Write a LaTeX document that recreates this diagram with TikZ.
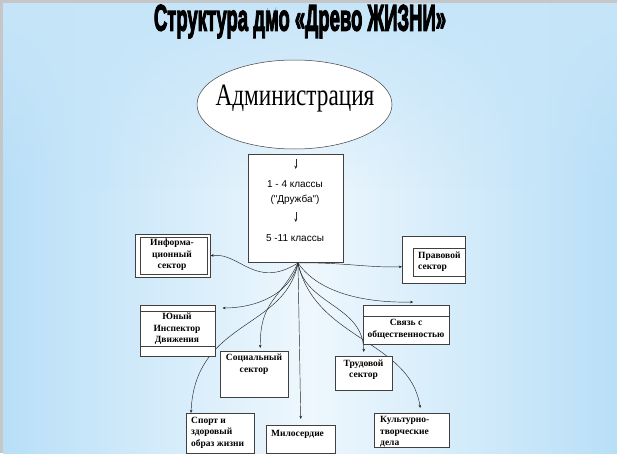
\documentclass[tikz,border=0pt]{standalone}
\usepackage{fontspec}
\setmainfont{Liberation Serif}
\newfontfamily\arialf{Liberation Sans}
\newfontfamily\titlef{Liberation Sans}[BoldFeatures={FakeBold=4}]
\usetikzlibrary{arrows.meta,shapes.geometric,fadings}

\definecolor{skydeep}{RGB}{184,223,247}
\definecolor{skylight}{RGB}{238,247,253}
\definecolor{slideframe}{RGB}{196,198,200}

\tikzfading[name=softband, top color=transparent!100, middle color=transparent!25, bottom color=transparent!100]

\pgfdeclarelayer{bg}
\pgfdeclarelayer{links}
\pgfsetlayers{bg,links,main}

\begin{document}
\begin{tikzpicture}[x=1pt, y=-1pt,
    box/.style={draw=black!75, fill=white, line width=.5pt, inner sep=0pt, anchor=north west},
    lbl/.style={font=\fontsize{9.5}{11.5}\selectfont\bfseries, inner sep=0pt, align=center},
    lbll/.style={lbl, align=left, anchor=west},
    feed/.style={line width=.45pt, black!85, -{Stealth[length=3.2pt,width=2.6pt]}},
    tick/.style={line width=.5pt, black!85, -{Stealth[length=3.4pt,width=3pt]}}]

    % slide background
    \begin{pgfonlayer}{bg}
        \fill[white] (0,0) rectangle (617,460);
        \shade[left color=skydeep, right color=skydeep, middle color=skylight] (3,3) rectangle (617,453);
        \fill[skydeep!80, path fading=south] (3,3) rectangle (617,190);
        \fill[white, path fading=softband] (3,285) rectangle (617,375);
        \fill[slideframe] (0,0) rectangle (617,3);
        \fill[slideframe] (0,0) rectangle (3,453);
    \end{pgfonlayer}

    % title
    \node[inner sep=0pt, font=\titlef\bfseries\fontsize{37}{37}\selectfont] (title) at (300,21.5)
        {\scalebox{.5}[1]{Структура дмо «Древо ЖИЗНИ»}};

    % administration
    \node[draw=black!75, fill=white, ellipse, line width=.5pt, minimum width=195pt, minimum height=89pt] (adm) at (294.5,104.5) {};
    \node[inner sep=0pt, font=\fontsize{27}{27}\selectfont] (admT) at (295,99) {\scalebox{.86}[1.15]{Администрация}};

    % classes
    \node[box, minimum width=95pt, minimum height=108pt] (grades) at (248,154) {};
    \node[inner sep=0pt, font=\arialf\fontsize{10}{12}\selectfont] (g14) at (295,184) {1 - 4 классы};
    \node[inner sep=0pt, font=\arialf\fontsize{10}{12}\selectfont] (druzhba) at (295,200) {("Дружба")};
    \node[inner sep=0pt, font=\arialf\fontsize{10}{12}\selectfont] (g511) at (295,238) {5 -11 классы};
    \draw[tick] ([yshift=-5pt]grades.north) -- ([yshift=-15pt]grades.north);
    \draw[tick] ([yshift=-58pt]grades.north) -- ([yshift=-68pt]grades.north);

    % sectors
    \node[box, minimum width=75pt, minimum height=43pt] (info) at (135,234) {};
    \node[box, minimum width=67pt, minimum height=37pt] (infoIn) at (140,237) {};
    \node[lbl] (infoT) at (172,255) {Информа-\\ционный\\сектор};

    \node[box, minimum width=63pt, minimum height=47pt] (prav) at (402,236) {};
    \node[box, minimum width=52pt, minimum height=28pt] (pravIn) at (413,248) {};
    \node[lbll] (pravT) at (418,261.5) {Правовой\\сектор};

    \node[box, minimum width=75pt, minimum height=51pt] (yuny) at (140,305) {};
    \draw[black!75, line width=.5pt] ([yshift=-6pt]yuny.north west) -- ([yshift=-6pt]yuny.north east);
    \draw[black!75, line width=.5pt] ([yshift=10pt]yuny.south west) -- ([yshift=10pt]yuny.south east);
    \node[lbl] (yunyT) at (177,329) {Юный\\Инспектор\\Движения};

    \node[box, minimum width=86pt, minimum height=39pt] (svyaz) at (363,305) {};
    \draw[black!75, line width=.5pt] ([yshift=-11pt]svyaz.north west) -- ([yshift=-11pt]svyaz.north east);
    \node[lbl] (svyazT) at (406,329) {Связь с\\общественностью};

    \node[box, minimum width=68pt, minimum height=46pt] (soc) at (220,351) {};
    \node[lbl] (socT) at (254,364) {Социальный\\сектор};

    \node[box, minimum width=57pt, minimum height=34pt] (trud) at (335,356) {};
    \node[lbl] (trudT) at (363.5,369.5) {Трудовой\\сектор};

    \node[box, minimum width=68pt, minimum height=40pt] (sport) at (186,413) {};
    \node[lbll] (sportT) at (191,432.5) {Спорт и\\здоровый\\образ жизни};

    \node[box, minimum width=69pt, minimum height=28pt] (milo) at (266,425) {};
    \node[lbll] (miloT) at (271,434) {Милосердие};

    \node[box, minimum width=75pt, minimum height=34pt] (kult) at (374,413) {};
    \node[lbll] (kultT) at (380,432) {Культурно-\\творческие\\дела};

    % links from the classes box
    \coordinate (hub) at (298,263);
    \begin{pgfonlayer}{links}
        \draw[feed] (hub) .. controls (255,290) and (240,252) .. (info.east);
        \draw[feed] (hub) .. controls (340,262) and (370,268) .. ([yshift=-7pt]prav.west);
        \draw[feed] (hub) .. controls (290,295) and (255,308) .. ([xshift=7pt,yshift=-3pt]yuny.north east);
        \draw[feed] (hub) .. controls (280,300) and (260,300) .. ([xshift=6pt,yshift=3pt]soc.north);
        \draw[feed] (hub) .. controls (285,330) and (195,320) .. ([xshift=5pt]sport.north west);
        \draw[feed] (hub) -- ([yshift=6pt]milo.north);
        \draw[feed] (hub) .. controls (305,305) and (363,305) .. ([yshift=4pt]trud.north);
        \draw[feed] (hub) .. controls (320,295) and (370,303) .. ([xshift=7pt,yshift=3pt]svyaz.north);
        \draw[feed] (hub) .. controls (315,340) and (410,340) .. ([xshift=8.5pt,yshift=5pt]kult.north);
    \end{pgfonlayer}

\end{tikzpicture}
\end{document}
